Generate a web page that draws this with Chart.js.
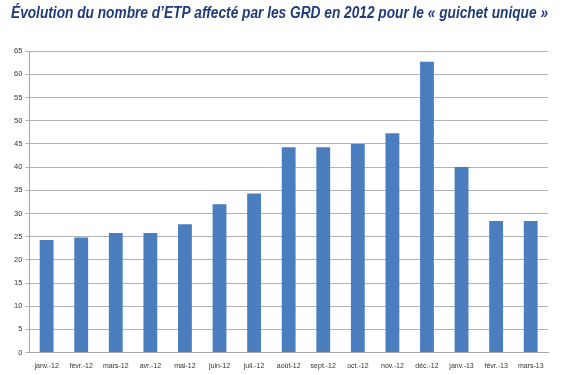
<!DOCTYPE html>
<html lang="fr">
<head>
    <meta charset="UTF-8">
    <title>Évolution du nombre d'ETP</title>
    <script src="https://cdn.jsdelivr.net/npm/chart.js"></script>
    <style>
        body { margin: 0; background: #fff; }
        .chart-container { width: 564px; height: 375px; }
    </style>
</head>
<body>
    <div class="chart-container">
        <canvas id="etpChart"></canvas>
    </div>

    <script>
        // mois (axe x)
        const mois = ['janv.-12', 'févr.-12', 'mars-12', 'avr.-12', 'mai-12', 'juin-12', 'juil.-12', 'août-12',
            'sept.-12', 'oct.-12', 'nov.-12', 'déc.-12', 'janv.-13', 'févr.-13', 'mars-13'];
        // ETP affectés
        const etp = [24.3, 24.8, 25.8, 25.8, 27.7, 32, 34.3, 44.3, 44.3, 45, 47.3, 62.7, 40, 28.4, 28.4];
        const titre = "Évolution du nombre d’ETP affecté par les GRD en 2012 pour le « guichet unique »";

        const ctx = document.getElementById('etpChart').getContext('2d');
        new Chart(ctx, {
            type: 'bar',
            data: {
                labels: mois,
                datasets: [{
                    label: 'ETP',
                    data: etp,
                    backgroundColor: '#4a7ebf',
                    categoryPercentage: 1,
                    barPercentage: 0.4
                }]
            },
            options: {
                responsive: true,
                maintainAspectRatio: false,
                animation: false,
                layout: { padding: { left: 11, right: 16, top: 2, bottom: 4 } },
                plugins: {
                    legend: { display: false },
                    tooltip: { enabled: false },
                    title: {
                        display: true,
                        text: titre,
                        align: 'start',
                        color: '#1f3b7a',
                        font: { family: 'Liberation Sans', size: 16, weight: 'bold', style: 'italic' },
                        padding: { top: 2, bottom: 28 }
                    }
                },
                scales: {
                    x: {
                        grid: { display: false },
                        border: { color: '#a6a6a6' },
                        ticks: {
                            color: '#333',
                            font: { family: 'Liberation Sans', size: 7 },
                            maxRotation: 0,
                            autoSkip: false,
                            padding: 1
                        }
                    },
                    y: {
                        min: 0,
                        max: 65,
                        grid: { color: '#b3b3b3', drawTicks: true, tickLength: 4 },
                        border: { color: '#a6a6a6' },
                        ticks: {
                            stepSize: 5,
                            color: '#333',
                            font: { family: 'Liberation Sans', size: 7.5 },
                            padding: 3
                        }
                    }
                }
            }
        });
    </script>
</body>
</html>
